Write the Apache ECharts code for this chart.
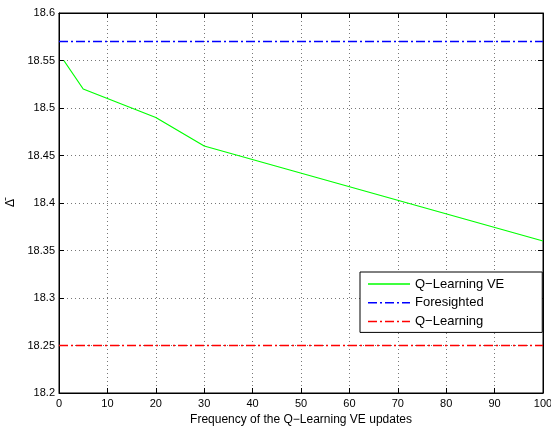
<!DOCTYPE html>
<html><head><meta charset="utf-8">
<script src="https://cdn.jsdelivr.net/npm/echarts@6/dist/echarts.min.js"></script>
<style>html,body{margin:0;padding:0;background:#fff}#c{width:551px;height:426px}</style>
</head><body><div id="c"></div>
<script>
const qveX = [1, 5, 20, 30, 100];
const qveY = [18.55, 18.52, 18.49, 18.46, 18.36];
const foresightedY = 18.57;
const qlearningY = 18.25;
const xRange = [0, 100];
const seriesNames = ['Q\u2212Learning VE', 'Foresighted', 'Q\u2212Learning'];
const xTitle = 'Frequency of the Q\u2212Learning VE updates';
const yTitle = '\u0394\u0304';

const font = 'Liberation Sans, Arial, Helvetica, sans-serif';
const fmtY = v => String(parseFloat(v.toFixed(2)));
const dashDot = [9, 3, 2, 3];
// legend icon paths (42x14 box, thin line in the middle)
const corners = 'M0,0h0.01v0.01h-0.01z M41.99,13.99h0.01v0.01h-0.01z ';
const solidIcon = 'path://' + corners + 'M0,6.3h42v1.4h-42z';
const dashDotIcon = 'path://' + corners +
  'M0,6.3h9v1.5h-9z M12,6.3h2v1.5h-2z M17,6.3h9v1.5h-9z M29,6.3h2v1.5h-2z M34,6.3h8v1.5h-8z';

const chart = echarts.init(document.getElementById('c'), null, {renderer: 'canvas'});
const gridLine = {show: true, lineStyle: {color: '#777', type: [1, 3], width: 1}};
chart.setOption({
  animation: false,
  backgroundColor: '#fff',
  color: ['#00ff00', '#0000ff', '#ff0000'],
  grid: {left: 59, right: 8, top: 13, bottom: 33, show: true, borderColor: '#000', borderWidth: 1,
         containLabel: false, outerBoundsMode: 'none'},
  legend: {
    left: 360, top: 272, orient: 'vertical',
    data: [
      {name: seriesNames[0], icon: solidIcon},
      {name: seriesNames[1], icon: dashDotIcon},
      {name: seriesNames[2], icon: dashDotIcon}
    ],
    itemWidth: 42, itemHeight: 14, itemGap: 4.7,
    padding: [5, 38, 4, 8],
    borderColor: '#000', borderWidth: 1, backgroundColor: '#fff',
    itemStyle: {borderWidth: 0},
    textStyle: {fontFamily: font, fontSize: 13, color: '#000'}
  },
  xAxis: [{
    type: 'value', min: xRange[0], max: xRange[1], interval: 10,
    name: xTitle, nameLocation: 'middle', nameGap: 18,
    nameTextStyle: {fontFamily: font, fontSize: 12, color: '#000'},
    axisLine: {show: true, onZero: false, lineStyle: {color: '#000', width: 1}},
    axisTick: {show: true, inside: true, length: 5, lineStyle: {color: '#000'}},
    axisLabel: {fontFamily: font, fontSize: 11, color: '#000', margin: 5},
    splitLine: gridLine
  }, {
    type: 'value', position: 'top', min: xRange[0], max: xRange[1], interval: 10,
    axisLine: {show: true, onZero: false, lineStyle: {color: '#000', width: 1}},
    axisTick: {show: true, inside: true, length: 5, lineStyle: {color: '#000'}},
    axisLabel: {show: false}, splitLine: {show: false}
  }],
  yAxis: [{
    type: 'value', min: 18.2, max: 18.6, interval: 0.05,
    name: yTitle, nameLocation: 'middle', nameGap: 40, nameRotate: 90,
    nameTextStyle: {fontFamily: font, fontSize: 12, color: '#000'},
    axisLine: {show: true, onZero: false, lineStyle: {color: '#000', width: 1}},
    axisTick: {show: true, inside: true, length: 5, lineStyle: {color: '#000'}},
    axisLabel: {fontFamily: font, fontSize: 11, color: '#000', margin: 4, formatter: fmtY},
    splitLine: gridLine
  }, {
    type: 'value', position: 'right', min: 18.2, max: 18.6, interval: 0.05,
    axisLine: {show: true, onZero: false, lineStyle: {color: '#000', width: 1}},
    axisTick: {show: true, inside: true, length: 5, lineStyle: {color: '#000'}},
    axisLabel: {show: false}, splitLine: {show: false}
  }],
  series: [
    {name: seriesNames[0], type: 'line', symbol: 'none', data: qveX.map((x, i) => [x, qveY[i]]),
     itemStyle: {color: '#00ff00'}, lineStyle: {color: '#00ff00', width: 1.2}},
    {name: seriesNames[1], type: 'line', symbol: 'none', data: xRange.map(x => [x, foresightedY]),
     itemStyle: {color: '#0000ff'}, lineStyle: {color: '#0000ff', width: 1.5, type: dashDot}},
    {name: seriesNames[2], type: 'line', symbol: 'none', data: xRange.map(x => [x, qlearningY]),
     itemStyle: {color: '#ff0000'}, lineStyle: {color: '#ff0000', width: 1.5, type: dashDot}}
  ]
});
</script></body></html>
